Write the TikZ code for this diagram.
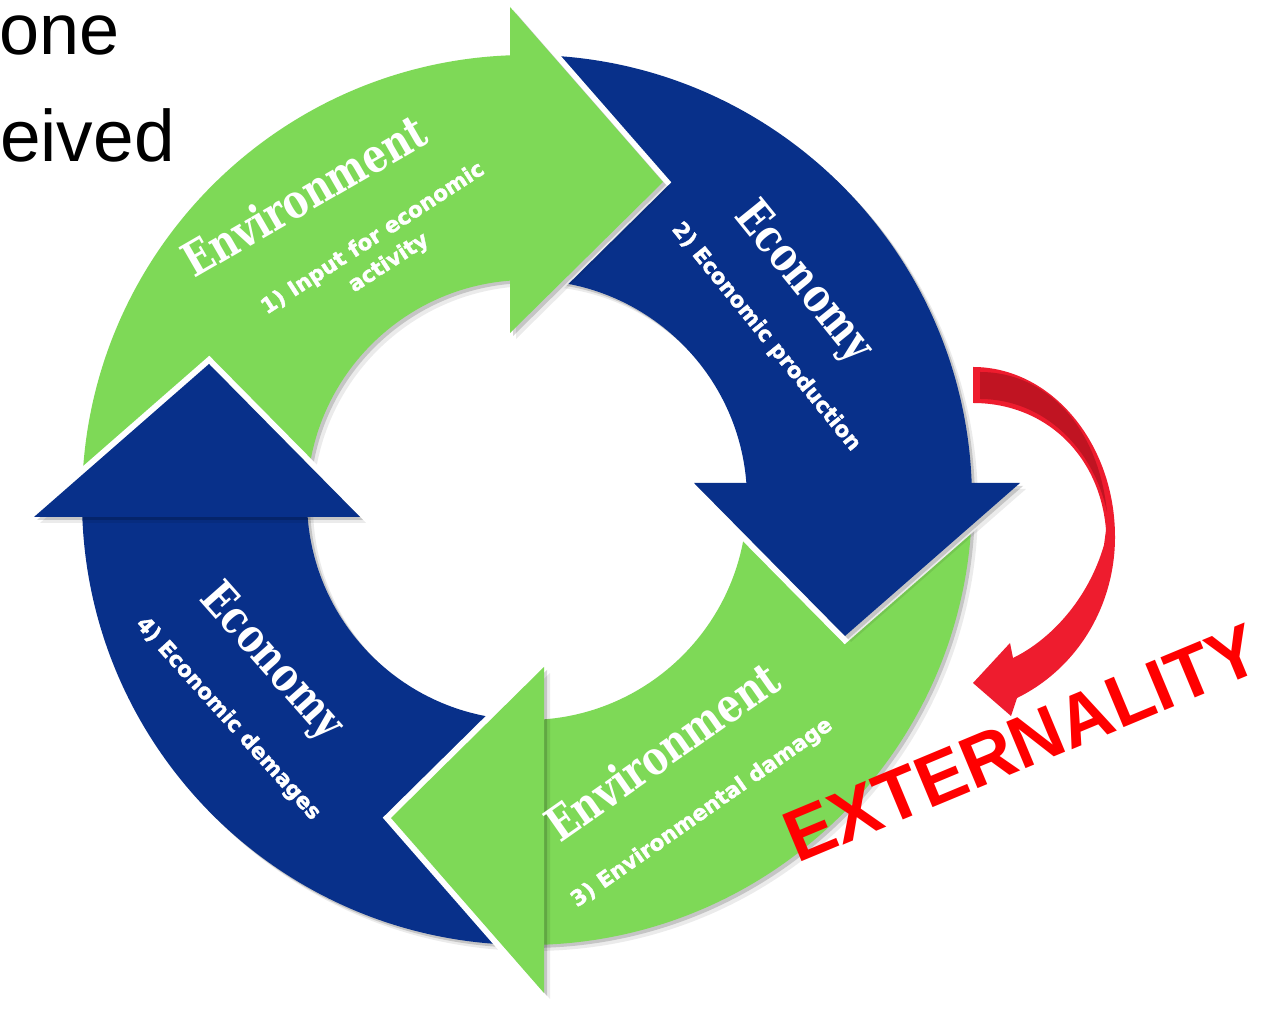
\documentclass[tikz,border=0pt]{standalone}
\usepackage{fontspec}
\setmainfont{Liberation Sans}
\newfontfamily\slabfont{DejaVu Serif}[FakeStretch=0.8]
\newfontfamily\subfont{DejaVu Sans}[BoldFeatures={FakeBold=1.6}]
\usetikzlibrary{calc}
\definecolor{envgreen}{RGB}{126,217,87}
\definecolor{ecoblue}{RGB}{8,48,138}
\definecolor{extred}{RGB}{238,28,46}
\definecolor{extdark}{RGB}{192,20,34}
\definecolor{textred}{RGB}{255,0,0}
\begin{document}
\begin{tikzpicture}[x=1pt,y=1pt,
  ringtitle/.style={text=white,font=\slabfont\bfseries\fontsize{47}{50}\selectfont,inner sep=0},
  ringsub/.style={text=white,font=\subfont\bfseries\fontsize{21.5}{29}\selectfont,align=center,inner sep=0},
  shade1/.style={fill=black,opacity=0.16},
  shade2/.style={fill=black,opacity=0.08},
  gapline/.style={draw=white,line width=12pt}]
\useasboundingbox (0,0) rectangle (1263,1009);
\fill[white] (0,0) rectangle (1263,1009);

% top-left slide text
\node[anchor=base west,inner sep=0,font=\fontsize{72}{80}\selectfont] (one) at (-1,954) {one};
\node[anchor=base west,inner sep=0,font=\fontsize{73}{80}\selectfont] (eived) at (0,847) {eived};

\begin{scope}[shift={(527,509)}]
  % shaft shadows
  \foreach \k in {0,1,2,3} {
    \begin{scope}[shift={(6,-6)},rotate=-90*\k]
      \path[shade2] (180:445) arc[start angle=180,end angle=90,radius=445] -- (90:220) arc[start angle=90,end angle=180,radius=220] -- cycle;
    \end{scope}
    \begin{scope}[shift={(3,-3)},rotate=-90*\k]
      \path[shade1] (180:445) arc[start angle=180,end angle=90,radius=445] -- (90:220) arc[start angle=90,end angle=180,radius=220] -- cycle;
    \end{scope}
  }
  % shafts
  \foreach \k/\col in {0/envgreen,1/ecoblue,2/envgreen,3/ecoblue} {
    \begin{scope}[rotate=-90*\k]
      \fill[\col] (180:445) arc[start angle=180,end angle=90,radius=445] -- (90:220) arc[start angle=90,end angle=180,radius=220] -- cycle;
    \end{scope}
  }
  % heads
  \foreach \k/\col in {0/envgreen,1/ecoblue,2/envgreen,3/ecoblue} {
    \begin{scope}[rotate=-90*\k]
      \draw[gapline] (-17,493) -- (136,318) -- (-17,167);
    \end{scope}
    \begin{scope}[shift={(6,-6)},rotate=-90*\k]
      \path[shade2] (-17,493) -- (136,318) -- (-17,167) -- cycle;
    \end{scope}
    \begin{scope}[shift={(3,-3)},rotate=-90*\k]
      \path[shade1] (-17,493) -- (136,318) -- (-17,167) -- cycle;
    \end{scope}
    \begin{scope}[rotate=-90*\k]
      \fill[\col] (-17,493) -- (136,318) -- (-17,167) -- cycle;
    \end{scope}
  }
\end{scope}

% ring texts
\node[ringtitle,rotate=30] (t1) at (304,814) {Environment};
\node[ringsub,rotate=33] (s1) at (381,758) {1) Input for economic\\activity};
\node[ringtitle,rotate=-51] (t2) at (803,726) {Economy};
\node[ringsub,rotate=-51] (s2) at (766,672) {2) Economic production};
\node[ringtitle,rotate=35] (t3) at (662,258) {Environment};
\node[ringsub,rotate=35] (s3) at (702,196) {3) Environmental damage};
\node[ringtitle,rotate=-48.5] (t4) at (271,346) {Economy};
\node[ringsub,rotate=-48] (s4) at (228,290) {4) Economic demages};

% red curved arrow (pixel coordinates)
\begin{scope}[shift={(0,1009)},yscale=-1]
  \fill[extred] (973,367) .. controls (1051,367) and (1115,443) .. (1115,537)
     .. controls (1115,605) and (1078,668) .. (1017,698) -- (1011,716) -- (973,683)
     -- (1010,643) -- (1013,658) .. controls (1050,640) and (1088,600) .. (1104,545)
     -- (1106,530) .. controls (1100,455) and (1045,403) .. (973,403) -- cycle;
  \fill[extdark] (980,372) .. controls (1045,372) and (1098,425) .. (1107,512)
     .. controls (1094,450) and (1045,399) .. (980,399) -- cycle;
\end{scope}

\node[anchor=base west,inner sep=0,rotate=22.6,text=textred,font=\bfseries\fontsize{73}{80}\selectfont] (ext) at (797,145) {EXTERNALITY};
\end{tikzpicture}
\end{document}
